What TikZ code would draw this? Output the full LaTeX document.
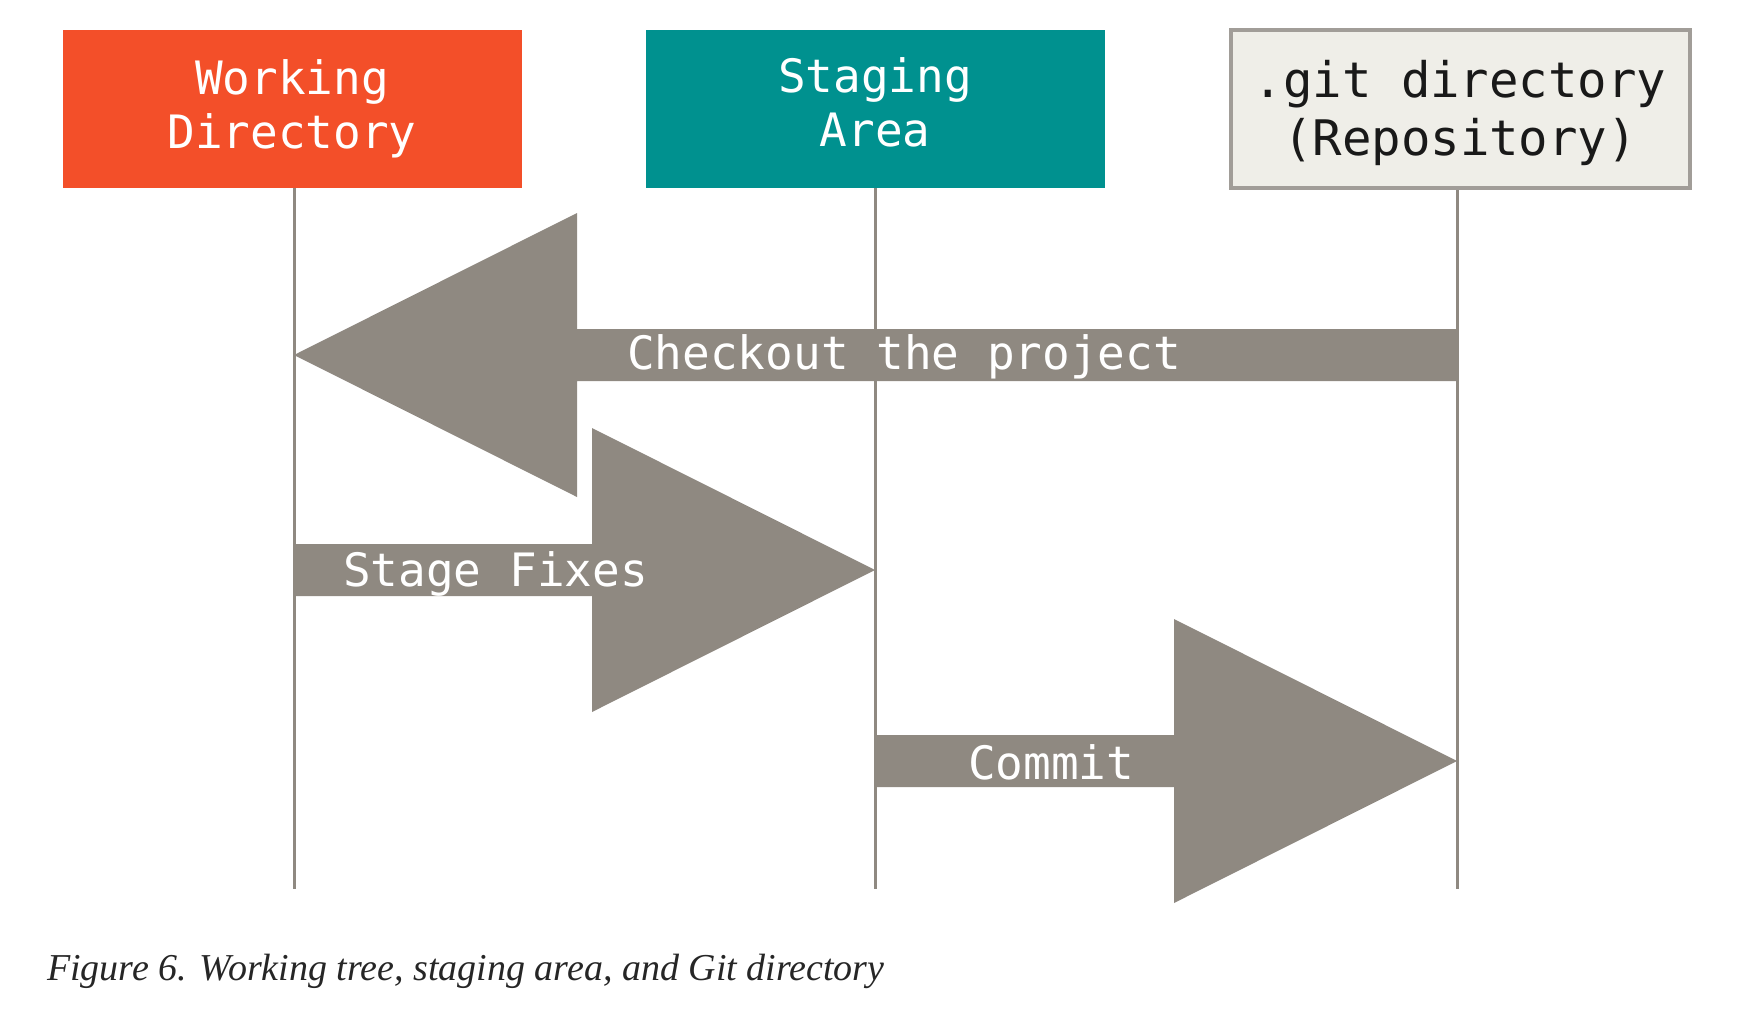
\documentclass[tikz,border=0pt]{standalone}
\usepackage{fontspec}
\setmonofont{DejaVu Sans Mono}
\setmainfont{Liberation Serif}
\usetikzlibrary{calc}

\definecolor{wdorange}{HTML}{F34F29}
\definecolor{sateal}{HTML}{00918F}
\definecolor{gdfill}{HTML}{EFEEE8}
\definecolor{gdline}{HTML}{A19D98}
\definecolor{arrowgray}{HTML}{8F8981}

\tikzset{
  area/.style={minimum width=459pt, minimum height=158pt, inner sep=0pt},
  areatext/.style={align=center, inner sep=0pt,
    font=\ttfamily\fontsize{46}{54}\selectfont},
  lifeline/.style={draw=arrowgray, line width=3pt},
  flowlabel/.style={anchor=west, text=white, inner sep=0pt,
    font=\ttfamily\fontsize{46}{54}\selectfont},
}

% fat arrow from one lifeline to another at height #3
\newcommand{\fatarrow}[3]{%
  \fill[arrowgray] let \p1=(#1), \p2=(#2), \p3=(0,#3),
    \n1={sign(\x2-\x1)} in
    (\x1,\y3+26pt) -- (\x2-\n1*283pt,\y3+26pt) -- (\x2-\n1*283pt,\y3+142pt)
    -- (\x2,\y3) -- (\x2-\n1*283pt,\y3-142pt) -- (\x2-\n1*283pt,\y3-26pt)
    -- (\x1,\y3-26pt) -- cycle;
}

\begin{document}
\begin{tikzpicture}[x=1pt, y=-1pt]
  \useasboundingbox (0,0) rectangle (1761,1015);

  \node[area, fill=wdorange] (wd) at (292,109) {};
  \node[area, fill=sateal] (sa) at (875,109) {};
  \node[area, fill=gdfill, draw=gdline, line width=4pt] (gd) at (1460,109) {};

  \node[areatext, text=white] (wdtext) at (wd.center) {Working\\Directory};
  \node[areatext, text=white] (satext) at ([yshift=7pt]sa.center) {Staging\\Area};
  \node[areatext, text=black!90, font=\ttfamily\fontsize{49}{58}\selectfont]
    (gdtext) at ([yshift=-4pt]gd.center) {.git directory\\(Repository)};

  % lifelines
  \coordinate (wdtop) at ([xshift=2pt]wd.south);
  \coordinate (satop) at (sa.south);
  \coordinate (gdtop) at ([xshift=-3pt]gd.south);
  \coordinate (wdend) at (wdtop |- 0,889);
  \coordinate (saend) at (satop |- 0,889);
  \coordinate (gdend) at (gdtop |- 0,889);
  \draw[lifeline] (wdtop) -- (wdend);
  \draw[lifeline] (satop) -- (saend);
  \draw[lifeline] (gdtop) -- (gdend);

  \fatarrow{gdtop}{wdtop}{355}
  \fatarrow{wdtop}{satop}{570}
  \fatarrow{satop}{gdtop}{761}

  \node[flowlabel] (co) at (627,357) {Checkout the project};
  \node[flowlabel] (sf) at (343,574) {Stage Fixes};
  \node[flowlabel] (cm) at (968,762) {Commit};

  \node[anchor=base west, inner sep=0pt, text=black!85,
    font=\itshape\fontsize{38}{42}\selectfont] (cap) at (47,980)
    {Figure 6. Working tree, staging area, and Git directory};
\end{tikzpicture}
\end{document}
